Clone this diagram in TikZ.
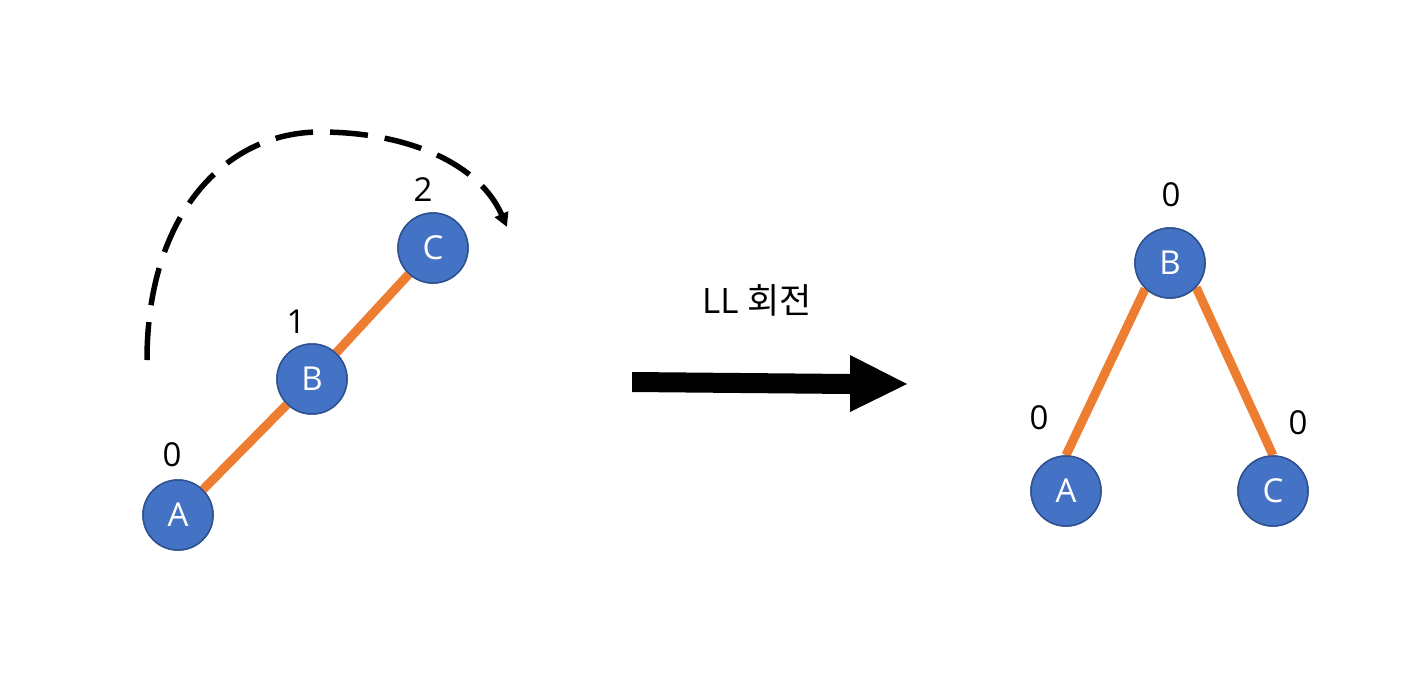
\documentclass[tikz,border=0pt]{standalone}
\usepackage{fontspec}
\setmainfont{Open Sans}
\newfontfamily\krfont{Noto Sans CJK KR}
\usetikzlibrary{arrows.meta}
\definecolor{nodefill}{HTML}{4472C4}
\definecolor{nodeborder}{HTML}{2F528F}
\definecolor{edgeorange}{HTML}{ED7D31}
\begin{document}
\begin{tikzpicture}[x=1pt,y=-1pt,
  tnode/.style={circle,fill=nodefill,draw=nodeborder,line width=1.5pt,minimum size=70pt,inner sep=0pt,text=white,font=\fontsize{33}{38}\selectfont},
  bal/.style={font=\fontsize{33}{38}\selectfont,text=black,inner sep=0pt},
  edge/.style={draw=edgeorange,line width=9pt},
  rot/.style={line width=5.5pt,dash pattern=on 38pt off 17pt,-{Triangle[length=14pt,width=14pt]}}]
\useasboundingbox (0,0) rectangle (1417,691);
% left tree
\node[tnode] (lA) at (178,515) {A};
\node[tnode] (lB) at (312,379) {B};
\node[tnode] (lC) at (433,248) {C};
\draw[edge] (lA) -- (lB);
\draw[edge] (lB) -- (lC);
\node[tnode] at (lA) {A};
\node[tnode] at (lB) {B};
\node[tnode] at (lC) {C};
\node[bal] (lA0) at (172,455) {0};
\node[bal] (lB1) at (296,322) {1};
\node[bal] (lC2) at (423,190) {2};
% rotation arrow
\coordinate (r0) at (147,360);
\coordinate (r1) at (320,132);
\coordinate (r2) at (507,227);
\draw[rot] (r0) .. controls (147,215) and (225,132) .. (r1) .. controls (410,132) and (480,165) .. (r2);
% label
\node[font=\fontsize{35}{40}\selectfont,inner sep=0pt] (lbl) at (757,300) {LL {\krfont 회전}};
% big arrow
\fill[black] (632,372) -- (850,374) -- (850,355) -- (907,384) -- (850,412) -- (850,394) -- (632,392) -- cycle;
% right tree
\node[tnode] (rB) at (1170,263) {B};
\node[tnode] (rA) at (1066,491) {A};
\node[tnode] (rC) at (1273,491) {C};
\draw[edge] (rB.226) -- (rA.north);
\draw[edge] (rB.317) -- (rC.north);
\node[tnode] at (rB) {B};
\node[tnode] at (rA) {A};
\node[tnode] at (rC) {C};
\node[bal] (rB0) at (1171,195) {0};
\node[bal] (rA0) at (1039,418) {0};
\node[bal] (rC0) at (1298,423) {0};
\end{tikzpicture}
\end{document}
